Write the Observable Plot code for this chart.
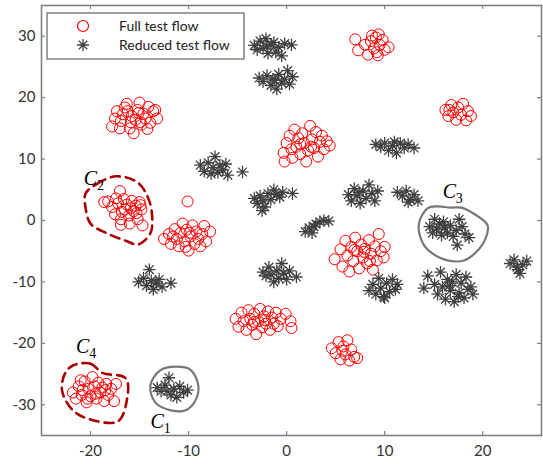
<!DOCTYPE html>
<html>
<head>
<meta charset="utf-8">
<script src="https://cdn.jsdelivr.net/npm/d3@7"></script>
<script src="https://cdn.jsdelivr.net/npm/@observablehq/plot@0.6"></script>
<style>
  html, body { margin: 0; padding: 0; background: #fff; }
  #chart { position: relative; width: 543px; height: 464px; }
</style>
</head>
<body>
<div id="chart"></div>
<script>
// ---- Data ----
const seriesNames = ["Full test flow", "Reduced test flow"];
const xTicks = [-20, -10, 0, 10, 20];
const yTicks = [-30, -20, -10, 0, 10, 20, 30];

const fullFlow = [
  // cluster near (-15.7, 16.7)
  [-17.8,15.3],[-17.3,17.8],[-16.9,16.2],[-16.5,18.4],[-16.3,19.0],[-16.0,15.0],[-15.8,17.0],[-15.6,14.2],[-15.4,16.4],[-15.2,18.0],[-15.0,19.2],[-14.8,15.6],[-14.6,17.4],[-14.4,16.6],[-14.1,18.5],[-13.9,15.9],[-13.6,17.8],[-13.2,16.6],[-17.0,15.0],[-16.7,17.3],[-15.9,16.0],[-15.1,17.5],[-14.2,14.9],[-13.4,18.0],[-16.2,17.8],[-17.5,16.6],[-14.9,16.0],
  // C2
  [-18.6,3.0],[-18.2,3.1],[-17.0,4.8],[-17.8,2.2],[-17.5,1.0],[-17.2,2.8],[-16.9,0.2],[-16.9,-0.7],[-16.6,3.5],[-16.5,1.8],[-16.3,2.6],[-16.1,0.8],[-15.8,3.2],[-15.6,1.5],[-15.4,2.4],[-15.2,0.2],[-15.0,3.0],[-14.8,1.8],[-14.7,-0.8],[-16.0,-0.5],[-17.4,3.6],[-16.8,1.4],[-15.9,2.0],[-15.3,1.2],[-14.9,2.5],
  // cluster near (-10, -3)
  [-10.1,3.1],[-12.5,-3.0],[-12.0,-2.2],[-11.8,-3.8],[-11.4,-1.4],[-11.2,-3.0],[-11.0,-4.2],[-10.8,-2.0],[-10.6,-0.5],[-10.4,-3.4],[-10.2,-1.5],[-10.0,-4.9],[-9.8,-2.6],[-9.6,-0.8],[-9.4,-3.8],[-9.2,-1.8],[-9.0,-3.0],[-8.8,-4.2],[-8.6,-2.2],[-8.4,-0.9],[-8.2,-3.4],[-7.8,-1.8],[-10.3,-4.3],[-11.6,-2.6],[-9.9,-2.0],
  // C4
  [-21.8,-28.0],[-21.5,-29.0],[-21.2,-27.0],[-20.9,-28.4],[-20.6,-26.2],[-20.4,-29.6],[-20.2,-27.4],[-20.0,-28.6],[-19.8,-25.5],[-19.6,-27.0],[-19.4,-29.0],[-19.2,-26.4],[-19.0,-28.0],[-18.8,-27.2],[-18.6,-29.4],[-18.4,-26.6],[-18.2,-28.4],[-17.9,-27.4],[-17.6,-29.4],[-17.4,-26.6],[-20.8,-27.6],[-19.5,-28.2],[-18.5,-27.6],[-21.0,-26.0],[-20.3,-29.0],
  // cluster near (-2.5, -16)
  [-5.2,-16.0],[-4.9,-17.3],[-4.6,-15.0],[-4.4,-16.4],[-4.1,-17.8],[-3.9,-14.6],[-3.7,-16.0],[-3.5,-17.0],[-3.3,-15.2],[-3.1,-18.5],[-2.9,-16.4],[-2.7,-14.4],[-2.5,-17.4],[-2.3,-15.6],[-2.1,-16.8],[-1.9,-14.8],[-1.7,-17.8],[-1.5,-15.8],[-1.3,-16.8],[-1.1,-15.0],[-0.9,-17.2],[-0.6,-16.0],[-0.1,-15.2],[0.4,-16.4],[0.5,-17.5],[-3.3,-16.5],[-2.2,-16.2],
  // cluster near (2, 12.5)
  [-0.3,11.0],[-0.2,9.6],[0.0,12.6],[0.3,13.8],[0.5,11.6],[0.6,10.2],[0.8,14.8],[1.0,12.0],[1.2,13.4],[1.4,10.8],[1.6,14.2],[1.8,12.6],[2.0,9.6],[2.2,11.4],[2.4,15.4],[2.6,13.2],[2.8,11.8],[3.0,14.4],[3.2,10.4],[3.4,12.8],[3.6,13.8],[3.8,11.6],[4.1,12.9],[4.4,12.2],[1.4,12.4],[2.5,12.0],
  // cluster near (8.8, 28.5)
  [7.0,29.5],[7.3,27.7],[8.0,28.6],[8.3,27.0],[8.6,29.2],[8.9,28.0],[9.1,29.8],[9.2,27.4],[9.3,26.9],[9.5,28.6],[9.8,29.4],[10.0,27.8],[10.4,28.2],[8.7,30.1],[9.4,30.3],
  // cluster near (17.5, 17.8)
  [16.2,18.0],[16.5,17.0],[16.8,18.8],[17.0,17.6],[17.3,16.4],[17.5,18.4],[17.8,17.2],[18.0,19.0],[18.3,16.3],[18.5,17.8],[18.8,17.0],[16.6,18.0],
  // cluster near (7.5, -5.3)
  [4.9,-6.3],[5.5,-4.7],[5.7,-7.5],[6.0,-3.3],[6.2,-5.7],[6.4,-8.3],[6.6,-4.3],[6.8,-6.6],[7.0,-2.8],[7.2,-5.0],[7.4,-7.8],[7.6,-3.9],[7.8,-6.0],[8.0,-4.6],[8.2,-7.0],[8.4,-3.2],[8.6,-5.4],[8.8,-8.0],[9.0,-4.2],[9.2,-6.5],[9.4,-2.2],[9.6,-5.0],[9.9,-6.0],[10.0,-4.3],[6.9,-4.8],[7.9,-5.1],[8.5,-6.6],
  // cluster near (6, -21)
  [4.6,-20.8],[5.0,-21.6],[5.3,-19.8],[5.5,-22.6],[5.8,-20.5],[6.0,-21.8],[6.2,-19.5],[6.4,-22.8],[6.6,-21.0],[6.9,-22.2],[7.2,-22.4],[5.7,-21.2]
];

const reducedFlow = [
  // (-1.5, 28.5)
  [-3.3,28.5],[-3.0,27.8],[-2.7,29.2],[-2.4,28.0],[-2.1,29.6],[-1.9,27.2],[-1.6,28.6],[-1.3,29.0],[-1.1,27.4],[-0.8,28.2],[-0.5,26.8],[-0.2,28.8],[0.5,28.6],[-2.0,28.4],
  // (-1, 23)
  [-2.8,23.2],[-2.4,22.6],[-2.0,23.6],[-1.6,22.0],[-1.4,23.0],[-1.0,21.4],[-0.8,23.8],[-0.5,22.4],[-0.2,23.0],[0.1,24.4],[0.3,22.2],[0.6,23.4],[-1.2,22.8],
  // (-7, 8.5)
  [-8.8,9.0],[-8.4,8.0],[-8.0,9.4],[-7.7,7.6],[-7.5,8.6],[-7.3,10.4],[-7.0,7.8],[-6.8,9.0],[-6.5,8.2],[-6.2,9.2],[-6.0,7.4],[-4.5,7.9],
  // (-1.5, 3.8)
  [-3.3,3.6],[-3.0,2.8],[-2.7,4.0],[-2.4,3.2],[-2.2,2.2],[-1.9,4.4],[-1.6,3.4],[-1.3,5.0],[-1.0,4.2],[-0.7,3.8],[-0.4,4.6],[0.6,4.4],[-2.5,1.6],
  // (3, -1)
  [1.9,-1.8],[2.3,-1.2],[2.6,-2.0],[3.0,-0.6],[3.4,-0.2],[3.8,0.0],[4.3,-0.1],[2.8,-1.0],
  // (-13.5, -10)
  [-15.1,-10.0],[-14.6,-9.4],[-14.3,-10.6],[-14.0,-8.0],[-13.8,-9.8],[-13.6,-11.2],[-13.3,-10.2],[-13.0,-9.6],[-12.7,-10.8],[-11.8,-10.2],
  // C1
  [-13.2,-27.2],[-12.8,-27.8],[-12.4,-26.8],[-12.0,-25.6],[-11.8,-28.4],[-11.5,-27.4],[-11.2,-28.8],[-10.9,-27.0],[-10.5,-28.0],[-10.1,-27.6],[-12.2,-27.8],
  // (-0.7, -8.5)
  [-2.4,-8.4],[-2.1,-9.0],[-1.8,-7.6],[-1.6,-8.8],[-1.3,-10.0],[-1.0,-8.2],[-0.8,-9.4],[-0.5,-7.0],[-0.3,-8.6],[0.0,-9.6],[0.3,-8.2],[1.0,-9.2],
  // (11, 12)
  [9.1,12.4],[9.6,12.0],[10.0,12.6],[10.4,11.4],[10.8,12.2],[11.2,11.0],[11.6,12.6],[12.0,11.8],[12.4,12.4],[13.0,11.8],[11.0,12.8],
  // (7.8, 4.3)
  [6.3,4.2],[6.6,3.2],[6.9,5.2],[7.2,4.0],[7.5,2.8],[7.8,4.8],[8.1,3.6],[8.4,5.8],[8.7,4.4],[9.0,3.2],[9.3,4.8],[7.4,4.6],
  // (12.4, 4)
  [11.3,4.6],[11.8,4.0],[12.2,4.8],[12.6,3.4],[13.0,4.2],[13.4,3.2],[12.4,3.0],
  // C3
  [14.6,-1.0],[14.9,-2.0],[15.1,0.2],[15.3,-1.4],[15.6,-0.6],[15.8,-2.4],[16.1,-1.2],[16.4,-2.0],[16.7,-0.8],[17.0,-2.6],[17.3,-1.6],[17.6,0.2],[17.9,-1.0],[18.2,-2.2],[17.4,-4.0],[18.6,-2.8],[16.0,-0.2],
  // (10, -11)
  [8.4,-11.4],[8.8,-10.4],[9.1,-12.0],[9.4,-9.4],[9.6,-11.0],[9.9,-12.4],[10.2,-10.2],[10.5,-11.6],[10.8,-9.6],[11.1,-11.2],[11.3,-10.4],[10.0,-12.6],
  // (16.8, -10.8)
  [14.0,-11.0],[14.4,-9.0],[15.1,-10.4],[15.4,-12.0],[15.7,-8.4],[15.9,-10.8],[16.2,-12.8],[16.4,-9.6],[16.7,-11.4],[16.9,-10.0],[17.1,-13.2],[17.3,-8.8],[17.6,-11.8],[17.8,-10.2],[18.1,-12.6],[18.3,-9.2],[18.5,-11.2],[18.8,-10.8],[19.0,-12.0],[16.6,-10.6],[17.5,-12.4],
  // (23.6, -7.4)
  [22.8,-7.0],[23.2,-6.4],[23.5,-7.6],[23.8,-8.6],[24.1,-7.2],[24.5,-6.6],[23.6,-8.0]
];

// cluster outlines (annotation shapes, data coordinates)
const outlineC1 = [[-13.9,-26.9],[-12.9,-24.4],[-11.3,-23.8],[-9.8,-24.3],[-9.0,-26.9],[-9.3,-29.3],[-10.3,-30.9],[-11.8,-30.9],[-13.4,-29.6]];
const outlineC2 = [[-20.5,4.4],[-19.3,6.0],[-17.4,7.2],[-15.2,6.2],[-14.1,3.6],[-13.7,0.3],[-13.9,-2.1],[-15.1,-3.9],[-16.4,-3.3],[-18.3,-2.1],[-20.0,-0.5],[-20.5,2.0]];
const outlineC3 = [[13.5,-0.5],[14.4,2.0],[15.4,2.3],[16.7,2.1],[17.8,2.1],[19.1,1.1],[20.5,-0.8],[20.3,-2.9],[19.3,-5.2],[18.1,-6.5],[16.4,-6.5],[14.9,-5.4],[13.9,-3.7]];
const outlineC4 = [[-21.8,-23.6],[-20.0,-23.3],[-18.8,-24.8],[-16.4,-25.7],[-16.3,-29.3],[-17.2,-32.7],[-20.0,-32.4],[-21.8,-30.9],[-22.9,-27.7],[-22.6,-24.9]];

const clusterLabels = ["1", "2", "3", "4"];
const clusterLabelX = [-13.2, -20.0, 16.6, -20.8];
const clusterLabelY = [-32.7, 6.8, 4.7, -20.5];

// ---- Styling ----
const RED = "#ff0000";
const GRAY = "#404040";
const FRAME = "#808080";
const DARKRED = "#a80000";

const asterisk = {
  draw(ctx, size) {
    const r = Math.sqrt(size / Math.PI);
    const d = r * 0.7071;
    ctx.moveTo(-r, 0); ctx.lineTo(r, 0);
    ctx.moveTo(0, -r); ctx.lineTo(0, r);
    ctx.moveTo(-d, -d); ctx.lineTo(d, d);
    ctx.moveTo(-d, d); ctx.lineTo(d, -d);
  }
};

const W = 543, H = 464;
const mL = 41, mR = 2, mT = 5, mB = 29;
const innerH = H - mT - mB, innerW = W - mL - mR;
const TL = 4;

const labelIdx = d3.range(clusterLabels.length);

const svg = Plot.plot({
  width: W, height: H,
  marginLeft: mL, marginRight: mR, marginTop: mT, marginBottom: mB,
  x: { domain: [-25, 26] },
  y: { domain: [-35, 35] },
  style: { fontFamily: "Lato, 'Liberation Sans', sans-serif", fontSize: "15px", color: "#333", background: "#fff" },
  marks: [
    // tick labels
    Plot.axisX({ ticks: xTicks, tickSize: 0, tickPadding: 10, tickFormat: d => String(d), fontSize: 15, fill: "#333" }),
    Plot.axisY({ ticks: yTicks, tickSize: 0, tickPadding: 6, tickFormat: d => String(d), fontSize: 15, fill: "#333" }),
    // inward ticks on all four sides
    Plot.tickX(xTicks, { x: d => d, insetTop: innerH - TL, stroke: FRAME, strokeWidth: 1.2 }),
    Plot.tickX(xTicks, { x: d => d, insetBottom: innerH - TL, stroke: FRAME, strokeWidth: 1.2 }),
    Plot.tickY(yTicks, { y: d => d, insetRight: innerW - TL, stroke: FRAME, strokeWidth: 1.2 }),
    Plot.tickY(yTicks, { y: d => d, insetLeft: innerW - TL, stroke: FRAME, strokeWidth: 1.2 }),
    // data
    Plot.dot(fullFlow, { x: d => d[0], y: d => d[1], r: 5.5, stroke: RED, strokeWidth: 1, fill: "none" }),
    Plot.dot(reducedFlow, { x: d => d[0], y: d => d[1], r: 6.2, symbol: asterisk, stroke: GRAY, strokeWidth: 1.3, fill: "none" }),
    // cluster outlines
    Plot.line(outlineC2, { x: d => d[0], y: d => d[1], curve: "catmull-rom-closed", stroke: DARKRED, strokeWidth: 2.6, strokeDasharray: "9,6" }),
    Plot.line(outlineC4, { x: d => d[0], y: d => d[1], curve: "catmull-rom-closed", stroke: DARKRED, strokeWidth: 2.6, strokeDasharray: "9,6" }),
    Plot.line(outlineC1, { x: d => d[0], y: d => d[1], curve: "catmull-rom-closed", stroke: "#777", strokeWidth: 2.2 }),
    Plot.line(outlineC3, { x: d => d[0], y: d => d[1], curve: "catmull-rom-closed", stroke: "#777", strokeWidth: 2.2 }),
    // cluster labels
    Plot.text(labelIdx, { x: i => clusterLabelX[i], y: i => clusterLabelY[i], text: () => "C", fontSize: 20, fontStyle: "italic", fontFamily: "'Liberation Serif', 'DejaVu Serif', serif", fill: "#000" }),
    Plot.text(labelIdx, { x: i => clusterLabelX[i], y: i => clusterLabelY[i], text: i => clusterLabels[i], dx: 10, dy: 7, fontSize: 14, fontFamily: "'Liberation Serif', 'DejaVu Serif', serif", fill: "#000" }),
    // frame
    Plot.frame({ stroke: FRAME, strokeWidth: 1.6 })
  ]
});

// legend (inside the axes, top-left)
const g = d3.select(svg).append("g").attr("text-anchor", "start");
g.append("rect").attr("x", 47).attr("y", 13).attr("width", 197).attr("height", 46)
  .attr("fill", "#fff").attr("stroke", FRAME).attr("stroke-width", 1.5);
g.append("circle").attr("cx", 83).attr("cy", 26).attr("r", 5.5)
  .attr("fill", "none").attr("stroke", RED).attr("stroke-width", 1.2);
const ar = 6, ad = ar * 0.7071;
g.append("path").attr("d", `M${83-ar},45H${83+ar}M83,${45-ar}V${45+ar}M${83-ad},${45-ad}L${83+ad},${45+ad}M${83-ad},${45+ad}L${83+ad},${45-ad}`)
  .attr("stroke", GRAY).attr("stroke-width", 1.3).attr("fill", "none");
seriesNames.forEach((name, i) => {
  g.append("text").attr("x", 119).attr("y", 26 + i * 19).attr("dy", "0.35em")
    .attr("text-anchor", "start")
    .attr("font-family", "Lato, 'Liberation Sans', sans-serif").attr("font-size", 14)
    .attr("fill", "#222").text(name);
});

document.getElementById("chart").appendChild(svg);
</script>
</body>
</html>
